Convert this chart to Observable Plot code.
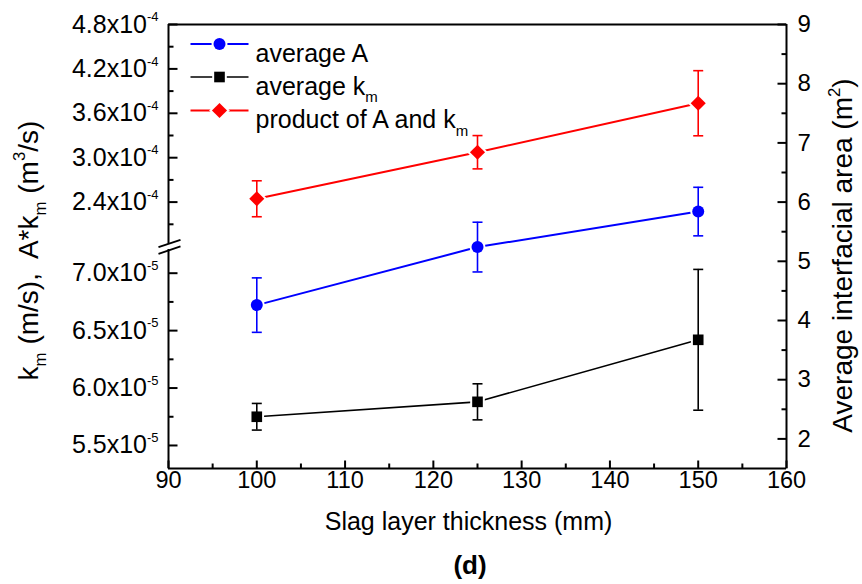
<!DOCTYPE html>
<html><head><meta charset="utf-8">
<script src="https://cdn.jsdelivr.net/npm/d3@7"></script>
<script src="https://cdn.jsdelivr.net/npm/@observablehq/plot@0.6"></script>
<style>
body{margin:0;background:#fff;font-family:"Liberation Sans",Arial,sans-serif;}
#wrap{position:relative;width:862px;height:584px;overflow:hidden;}
#cap{position:absolute;left:0;top:546px;width:940px;height:38px;line-height:38px;text-align:center;font-weight:bold;font-size:26px;color:#000;}
</style></head><body><div id="wrap"><div id="chart"></div><div id="cap">(d)</div></div>
<script>
// ---- data ----
const thickness = [100, 125, 150];
const areaMean = [4.26, 5.24, 5.84];          // average A (m^2), right axis
const areaErr  = [0.46, 0.42, 0.41];
const kmMean   = [5.75e-5, 5.88e-5, 6.42e-5]; // average km (m/s), lower left axis
const kmErr    = [0.116e-5, 0.157e-5, 0.613e-5];
const prodMean = [2.445e-4, 3.074e-4, 3.736e-4]; // A*km (m^3/s), upper left axis
const prodErr  = [0.243e-4, 0.225e-4, 0.44e-4];

const xTicks = [90, 100, 110, 120, 130, 140, 150, 160];
const xMinor = [95, 105, 115, 125, 135, 145, 155];
const rightTicks = [2, 3, 4, 5, 6, 7, 8, 9];
const rightMinor = [2.5, 3.5, 4.5, 5.5, 6.5, 7.5, 8.5];
const upperTicks = [2.4e-4, 3.0e-4, 3.6e-4, 4.2e-4, 4.8e-4];
const upperLabels = ["2.4x10^{-4}", "3.0x10^{-4}", "3.6x10^{-4}", "4.2x10^{-4}", "4.8x10^{-4}"];
const upperMinor = [2.1e-4, 2.7e-4, 3.3e-4, 3.9e-4, 4.5e-4];
const lowerTicks = [5.5e-5, 6.0e-5, 6.5e-5, 7.0e-5];
const lowerLabels = ["5.5x10^{-5}", "6.0x10^{-5}", "6.5x10^{-5}", "7.0x10^{-5}"];
const lowerMinor = [5.75e-5, 6.25e-5, 6.75e-5];

const seriesNames = ["average A", "average k_{m}", "product of A and k_{m}"];

// ---- broken left axis: map onto the right-axis units ----
const yDomain = [1.5, 9];
const upperMap = v => 6 + (v - 2.4e-4) / 0.8e-4;
const lowerMap = v => 1.889 + (v - 5.5e-5) / 0.5e-5 * 0.970;
const breakHi = 5.292, breakLo = 5.199, breakMid = 5.245;

const blue = "#0000ff", red = "#ff0000", black = "#000000";
const idx = d3.range(thickness.length);

const seg = (x1, y1, x2, y2) => ({draw(c) { c.moveTo(x1, y1); c.lineTo(x2, y2); }});
const tickUp = seg(0, 0, 0, -8), tickUpMinor = seg(0, 0, 0, -5);
const tickRight = seg(0, 0, 9, 0), tickRightMinor = seg(0, 0, 5, 0);
const tickLeft = seg(0, 0, -9, 0), tickLeftMinor = seg(0, 0, -5, 0);
const cap = seg(-5, 0, 5, 0);
const slash = seg(-10, 3.7, 12, -3.7);
const legLine = seg(-29, 0, 29, 0);

function series(mean, err, map, color, symbol, r, lw) {
  const X = i => thickness[i];
  const Y = i => map(mean[i]);
  return [
    Plot.line(idx, {x: X, y: Y, stroke: color, strokeWidth: lw}),
    Plot.dot(idx, {x: X, y: Y, symbol, r, fill: color, stroke: "white", strokeWidth: 4}),
    Plot.ruleX(idx, {x: X, y1: i => map(mean[i] - err[i]), y2: i => map(mean[i] + err[i]), stroke: color, strokeWidth: 1.6}),
    Plot.dot(idx, {x: X, y: i => map(mean[i] + err[i]), symbol: cap, fill: "none", stroke: color, strokeWidth: 1.6}),
    Plot.dot(idx, {x: X, y: i => map(mean[i] - err[i]), symbol: cap, fill: "none", stroke: color, strokeWidth: 1.6}),
    Plot.dot(idx, {x: X, y: Y, symbol, r, fill: color, stroke: "none"})
  ];
}

const legendRows = [
  {name: seriesNames[0], color: blue, symbol: "circle", r: 6, dy: 19.5, lw: 2},
  {name: seriesNames[1], color: black, symbol: "square", r: 6, dy: 52.5, lw: 1.6},
  {name: seriesNames[2], color: red, symbol: "diamond2", r: 6.8, dy: 86, lw: 2}
];
const legendMarks = legendRows.flatMap(row => [
  Plot.dot([row], {frameAnchor: "top-left", dx: 51, dy: row.dy, symbol: legLine, fill: "none", stroke: row.color, strokeWidth: row.lw}),
  Plot.dot([row], {frameAnchor: "top-left", dx: 51, dy: row.dy, symbol: row.symbol, r: row.r, fill: row.color, stroke: "white", strokeWidth: 4}),
  Plot.dot([row], {frameAnchor: "top-left", dx: 51, dy: row.dy, symbol: row.symbol, r: row.r, fill: row.color, stroke: "none"}),
  Plot.text([row], {frameAnchor: "top-left", dx: 87, dy: row.dy, text: d => d.name, textAnchor: "start", fontSize: 25, fill: "black"})
]);

const K = {stroke: black, strokeWidth: 2};
const plot = Plot.plot({
  width: 862, height: 546,
  marginLeft: 168, marginRight: 76, marginTop: 24, marginBottom: 78,
  x: {domain: [90, 160], axis: null},
  y: {domain: yDomain, axis: null},
  style: {fontFamily: '"Liberation Sans", Arial, sans-serif', background: "white", overflow: "visible", color: "black"},
  marks: [
    // frame (left side broken)
    Plot.ruleY([yDomain[1]], K),
    Plot.ruleY([yDomain[0]], K),
    Plot.ruleX([160], K),
    Plot.ruleX([90], {...K, y1: breakHi, y2: yDomain[1]}),
    Plot.ruleX([90], {...K, y1: yDomain[0], y2: breakLo}),
    Plot.dot([breakMid], {x: () => 90, y: d => d, dy: -3.3, symbol: slash, fill: "none", stroke: black, strokeWidth: 1.8}),
    Plot.dot([breakMid], {x: () => 90, y: d => d, dy: 3.3, symbol: slash, fill: "none", stroke: black, strokeWidth: 1.8}),
    // ticks
    Plot.dot(xTicks, {x: d => d, frameAnchor: "bottom", symbol: tickUp, fill: "none", stroke: black, strokeWidth: 2}),
    Plot.dot(xMinor, {x: d => d, frameAnchor: "bottom", symbol: tickUpMinor, fill: "none", stroke: black, strokeWidth: 2}),
    Plot.dot(rightTicks, {y: d => d, frameAnchor: "right", symbol: tickLeft, fill: "none", stroke: black, strokeWidth: 2}),
    Plot.dot(rightMinor, {y: d => d, frameAnchor: "right", symbol: tickLeftMinor, fill: "none", stroke: black, strokeWidth: 2}),
    Plot.dot(upperTicks, {y: upperMap, frameAnchor: "left", symbol: tickRight, fill: "none", stroke: black, strokeWidth: 2}),
    Plot.dot(upperMinor, {y: upperMap, frameAnchor: "left", symbol: tickRightMinor, fill: "none", stroke: black, strokeWidth: 2}),
    Plot.dot(lowerTicks, {y: lowerMap, frameAnchor: "left", symbol: tickRight, fill: "none", stroke: black, strokeWidth: 2}),
    Plot.dot(lowerMinor, {y: lowerMap, frameAnchor: "left", symbol: tickRightMinor, fill: "none", stroke: black, strokeWidth: 2}),
    // tick labels
    Plot.text(xTicks, {x: d => d, frameAnchor: "bottom", dy: 19, text: d => String(d), fontSize: 23.5, fill: "black"}),
    Plot.text(rightTicks, {y: d => d, frameAnchor: "right", dx: 11, textAnchor: "start", text: d => String(d), fontSize: 24, fill: "black"}),
    Plot.text(upperTicks, {y: upperMap, frameAnchor: "left", dx: -10, textAnchor: "end", text: (d, i) => upperLabels[i], fontSize: 25, fill: "black"}),
    Plot.text(lowerTicks, {y: lowerMap, frameAnchor: "left", dx: -10, textAnchor: "end", text: (d, i) => lowerLabels[i], fontSize: 25, fill: "black"}),
    // axis titles
    Plot.text(["Slag layer thickness (mm)"], {frameAnchor: "bottom", dx: -9, dy: 61, textAnchor: "middle", text: d => d, fontSize: 25, fill: "black"}),
    Plot.text(["k_{m} (m/s),  A*k_{m} (m^{3}/s)"], {frameAnchor: "left", dx: -139.5, dy: 4, textAnchor: "middle", rotate: -90, text: d => d, fontSize: 28, fill: "black"}),
    Plot.text(["Average interfacial area (m^{2})"], {frameAnchor: "right", dx: 57, dy: 9, textAnchor: "middle", rotate: -90, text: d => d, fontSize: 28, fill: "black"}),
    // data
    ...series(kmMean, kmErr, lowerMap, black, "square", 6, 1.6),
    ...series(areaMean, areaErr, v => v, blue, "circle", 6, 2),
    ...series(prodMean, prodErr, upperMap, red, "diamond2", 6.8, 2),
    // legend
    ...legendMarks
  ]
});
document.getElementById("chart").appendChild(plot);

// rich text: ^{..} superscript, _{..} subscript
const NS = "http://www.w3.org/2000/svg";
plot.querySelectorAll("text").forEach(el => {
  const s = el.textContent;
  if (!/[\^_]\{/.test(s)) return;
  const size = parseFloat(getComputedStyle(el).fontSize) || 24;
  const tick = /x10\^/.test(s);
  const ratio = tick ? 0.52 : 0.6;
  while (el.firstChild) el.removeChild(el.firstChild);
  const re = /([\^_])\{([^}]*)\}|([^\^_]+)/g;
  let m, cur = 0;
  while ((m = re.exec(s))) {
    const t = document.createElementNS(NS, "tspan");
    let target;
    if (m[3] !== undefined) { t.textContent = m[3]; target = 0; }
    else {
      t.textContent = m[2];
      t.setAttribute("font-size", (ratio * size).toFixed(1));
      target = m[1] === "^" ? -0.45 * size : 0.3 * size;
    }
    if (target !== cur) t.setAttribute("dy", (target - cur).toFixed(1));
    cur = target;
    el.appendChild(t);
  }
});
</script></body></html>
